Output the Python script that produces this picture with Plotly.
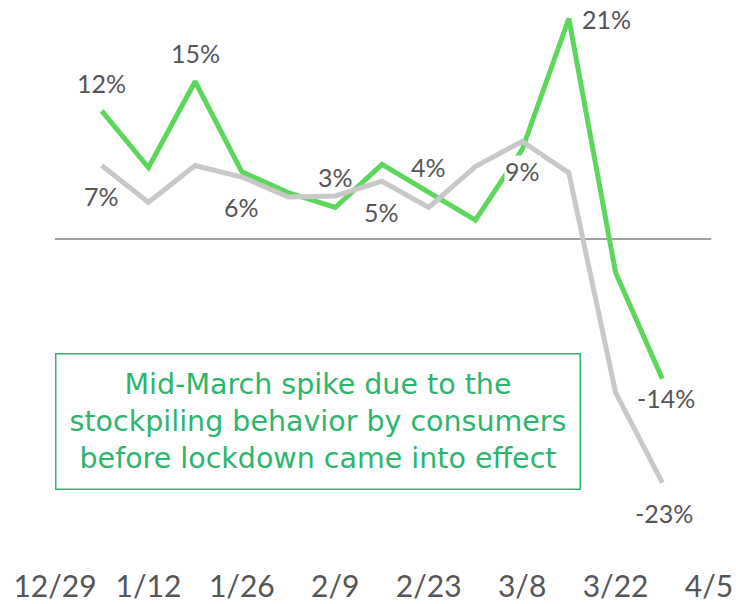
import plotly.graph_objects as go

weeks = ["2020-01-05", "2020-01-12", "2020-01-19", "2020-01-26", "2020-02-02", "2020-02-09",
         "2020-02-16", "2020-02-23", "2020-03-01", "2020-03-08", "2020-03-15", "2020-03-22",
         "2020-03-29"]
green_vals = [12.2, 6.8, 15.0, 6.4, 4.4, 3.0, 7.1, 4.5, 1.8, 8.5, 21.0, -3.2, -13.3]
gray_vals = [7.0, 3.5, 7.0, 5.9, 4.0, 4.1, 5.5, 3.0, 6.9, 9.3, 6.3, -14.6, -23.2]

tick_vals = ["2019-12-29", "2020-01-12", "2020-01-26", "2020-02-09", "2020-02-23",
             "2020-03-08", "2020-03-22", "2020-04-05"]
tick_text = ["12/29", "1/12", "1/26", "2/9", "2/23", "3/8", "3/22", "4/5"]

# data labels: (series, index, text, xshift, yshift)
labels = [
    ("green", 0, "12%", 0, 28),
    ("green", 2, "15%", 0, 28),
    ("gray", 0, "7%", 0, -31),
    ("gray", 3, "6%", 0, -30),
    ("green", 5, "3%", 0, 30),
    ("gray", 6, "5%", 0, -31),
    ("green", 7, "4%", 0, 25),
    ("gray", 9, "9%", 0, -30),
    ("green", 10, "21%", 38, -1),
    ("green", 12, "-14%", 4, -19),
    ("gray", 12, "-23%", 2, -30),
]

note_text = ("Mid-March spike due to the<br>stockpiling behavior by consumers"
             "<br>before lockdown came into effect")

GREEN = "#5bd75b"
GRAY = "#c8c8c8"
TEXT = "#555555"
NOTE = "#2db56e"
FONT = "Lato"

fig = go.Figure()
fig.add_trace(go.Scatter(x=weeks, y=green_vals, mode="lines",
                         line=dict(color=GREEN, width=5), hoverinfo="skip"))
fig.add_trace(go.Scatter(x=weeks, y=gray_vals, mode="lines",
                         line=dict(color=GRAY, width=5), hoverinfo="skip"))

series = {"green": green_vals, "gray": gray_vals}
for s, i, txt, xs, ys in labels:
    fig.add_annotation(x=weeks[i], y=series[s][i], text=txt, showarrow=False,
                       xshift=xs, yshift=ys, bgcolor="white" if txt == "9%" else None,
                       borderpad=0,
                       font=dict(family=FONT, size=25, color=TEXT))

fig.add_shape(type="line", xref="x", yref="y", x0="2019-12-29", x1="2020-04-05 08:00",
              y0=0, y1=0, line=dict(color="#808080", width=1.5), layer="below")

fig.add_annotation(xref="paper", yref="paper", x=0.4327, y=0.226, xanchor="center",
                   yanchor="middle", text=note_text,
                   showarrow=False, width=523, height=134, borderpad=0, borderwidth=1.5,
                   bordercolor=NOTE, bgcolor="white",
                   font=dict(family="DejaVu Sans", size=28.5, color=NOTE))

fig.update_layout(
    width=736, height=604,
    margin=dict(l=0, r=0, t=0, b=60),
    paper_bgcolor="white", plot_bgcolor="white",
    showlegend=False,
    xaxis=dict(type="date", range=["2019-12-20 18:14", "2020-04-09 01:12"],
               tickvals=tick_vals, ticktext=tick_text, showgrid=False, zeroline=False,
               showline=False, ticks="", ticklabelstandoff=22, automargin=False,
               tickfont=dict(family=FONT, size=30, color=TEXT)),
    yaxis=dict(range=[-29.05, 22.76], visible=False, showgrid=False, zeroline=False,
               automargin=False),
)

fig.write_html("out.html", config={"displayModeBar": False},
               post_script="document.body.style.margin='0px';")
